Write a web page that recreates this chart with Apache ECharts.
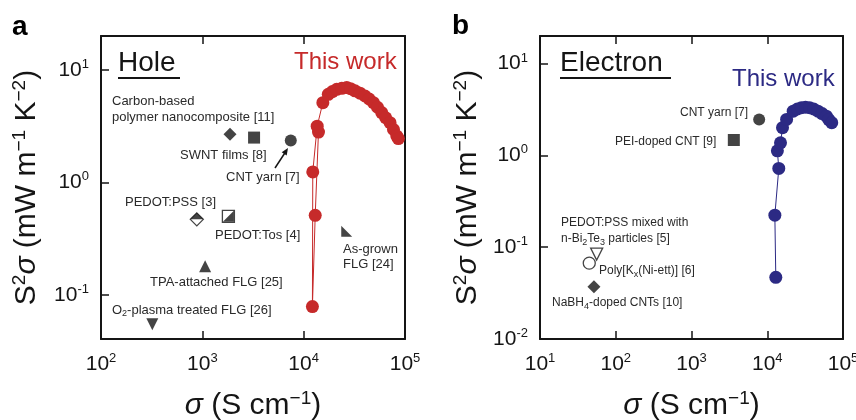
<!DOCTYPE html>
<html><head><meta charset="utf-8">
<script src="https://cdn.jsdelivr.net/npm/echarts@6/dist/echarts.min.js"></script>
<style>html,body{margin:0;padding:0;background:#fff}#c{width:856px;height:420px}</style>
</head><body><div id="c"></div>
<script>
// ---- data ----
const holeSigma = [14000, 13000, 12200, 12300, 13600, 15460, 17500, 19200, 21200, 23800, 26600, 29000, 32100, 36000, 40300, 44300, 48800, 53500, 58900, 64500, 71200, 77000, 83000, 86000];
const holeS2    = [2.8,   0.51,  0.079, 1.24,  3.16,  5.1,   6.06,  6.4,   6.7,   6.85,  6.95,  6.8,   6.5,   6.2,   5.85,  5.5,   5.1,   4.65,  4.17,  3.75,  3.39,  2.95,  2.58,  2.45];
const elecSigma = [12970, 12600, 14200, 13600, 14960, 15900, 18000, 22000, 25000, 28200, 32000, 36300, 41000, 46800, 53000, 60300, 65000, 71000];
const elecS2    = [0.047, 0.223, 0.72,  1.12,  1.37,  2.0,   2.46,  3.03,  3.2,   3.3,   3.35,  3.3,   3.2,   3.03,  2.85,  2.67,  2.45,  2.27];
const holeRefNames = ['Carbon-based polymer nanocomposite [11]', 'SWNT films [8]', 'CNT yarn [7]', 'PEDOT:PSS [3]', 'PEDOT:Tos [4]', 'As-grown FLG [24]', 'TPA-attached FLG [25]', 'O2-plasma treated FLG [26]'];
const holeRefSigma = [1875, 3240, 7460, 882, 1808, 26600, 1065, 321];
const holeRefS2    = [2.67, 2.5, 2.36, 0.47, 0.50, 0.369, 0.18, 0.055];
const elecRefNames = ['CNT yarn [7]', 'PEI-doped CNT [9]', 'PEDOT:PSS mixed with n-Bi2Te3 particles [5]', 'Poly[Kx(Ni-ett)] [6]', 'NaBH4-doped CNTs [10]'];
const elecRefSigma = [7820, 3620, 56, 44.7, 51.5];
const elecRefS2    = [2.46, 1.47, 0.084, 0.067, 0.037];
const xRangeHole = [100, 100000];
const xRangeElec = [10, 100000];
const yRangeHole = [0.0407, 19.95];
const yRangeElec = [0.01, 19.95];

// ---- styles ----
const FONT = 'Liberation Sans, Arial, sans-serif';
const RED = '#c62a2a', BLUE = '#2c2a84', INK = '#151515', TXT = '#2a2a2a';
const holeRefStyle = [
  [{symbol:'diamond', size:13, fill:INK}],
  [{symbol:'rect', size:12, fill:INK}],
  [{symbol:'circle', size:12, fill:INK}],
  [{symbol:'diamond', size:13, fill:'#fff', border:INK}, {symbol:'path://M0,10 L10,0 L20,10 Z', size:[13,6.5], offset:[0,-3.25], fill:INK}],
  [{symbol:'rect', size:12, fill:'#fff', border:INK}, {symbol:'path://M10,0 L10,10 L0,10 Z', size:11, fill:INK}],
  [{symbol:'path://M0,0 L0,10 L10,10 Z', size:11, fill:INK}],
  [{symbol:'triangle', size:12, fill:INK}],
  [{symbol:'triangle', size:12, fill:INK, rotate:180}]
];
const elecRefStyle = [
  [{symbol:'circle', size:12, fill:INK}],
  [{symbol:'rect', size:12, fill:INK}],
  [{symbol:'triangle', size:12, fill:'#fff', border:INK, rotate:180}],
  [{symbol:'circle', size:12, fill:'#fff', border:INK}],
  [{symbol:'diamond', size:13, fill:INK}]
];

function tickFmt(v){ const e = Math.round(Math.log10(v)); return '{b|10}{s|' + (e < 0 ? '-' : '') + Math.abs(e) + '}'; }
const tickRich = { b:{fontSize:21, fontFamily:FONT, color:INK}, s:{fontSize:13, fontFamily:FONT, color:INK, padding:[0,0,11,0]} };
const lineSty = {color:INK, width:2};
const titleRich = {
  i:{fontSize:30, fontStyle:'italic', fontFamily:FONT, color:INK},
  n:{fontSize:30, fontFamily:FONT, color:INK},
  p:{fontSize:19, fontFamily:FONT, color:INK, padding:[0,0,14,0]}
};

function xAx(gi, rng, pos, labels){
  return { gridIndex:gi, type:'log', logBase:10, min:rng[0], max:rng[1], position:pos,
    axisLine:{show:true, onZero:false, lineStyle:lineSty},
    axisTick:{show:true, inside:true, length:8, lineStyle:{color:INK, width:1.5}},
    axisLabel:{show:labels, margin:13, formatter:tickFmt, rich:tickRich},
    splitLine:{show:false}, minorTick:{show:false},
    name: labels ? '{i|σ}{n| (S cm}{p|−1}{n|)}' : '', nameLocation:'middle', nameGap:50,
    nameTextStyle:{rich:titleRich} };
}
function yAx(gi, rng, pos, labels, showMin){
  return { gridIndex:gi, type:'log', logBase:10, min:rng[0], max:rng[1], position:pos,
    axisLine:{show:true, onZero:false, lineStyle:lineSty},
    axisTick:{show:labels, inside:true, length:8, lineStyle:{color:INK, width:1.5}},
    axisLabel:{show:labels, margin:12, formatter:tickFmt, rich:tickRich, showMinLabel:showMin, showMaxLabel:false},
    splitLine:{show:false},
    name: labels ? '{n|S}{p|2}{i|σ}{n| (mW m}{p|−1}{n| K}{p|−2}{n|)}' : '', nameLocation:'middle', nameGap: gi===0 ? 58 : 56,
    nameTextStyle:{rich:titleRich} };
}

const series = [];
function addRefs(names, xs, ys, styles, xi, yi){
  names.forEach((n, k) => {
    styles[k].forEach(st => {
      series.push({ type:'scatter', name:n, xAxisIndex:xi, yAxisIndex:yi, data:[[xs[k], ys[k]]],
        symbol:st.symbol, symbolSize:st.size, symbolOffset:st.offset || [0,0], symbolRotate:st.rotate || 0,
        itemStyle:{color:st.fill, borderColor:st.border || st.fill, borderWidth:st.border ? 1.3 : 0}, z:5, silent:true });
    });
  });
}
addRefs(holeRefNames, holeRefSigma, holeRefS2, holeRefStyle, 0, 0);
addRefs(elecRefNames, elecRefSigma, elecRefS2, elecRefStyle, 2, 2);
series.push({ type:'line', name:'Hole this work', xAxisIndex:0, yAxisIndex:0, data:holeSigma.map((x,i)=>[x, holeS2[i]]),
  symbol:'circle', symbolSize:13, showSymbol:true, lineStyle:{color:RED, width:1}, itemStyle:{color:RED}, z:4, animation:false });
series.push({ type:'line', name:'Electron this work', xAxisIndex:2, yAxisIndex:2, data:elecSigma.map((x,i)=>[x, elecS2[i]]),
  symbol:'circle', symbolSize:13, showSymbol:true, lineStyle:{color:BLUE, width:1}, itemStyle:{color:BLUE}, z:4, animation:false });

function T(x, y, text, size, opts){ return Object.assign({ type:'text', x:x, y:y, style:Object.assign({ text:text, fontSize:size, fontFamily:FONT, fill:TXT, verticalAlign:'middle' }, opts || {}) }); }
const subRich = { s:{fontSize:9, fontFamily:FONT, fill:TXT, padding:[8,0,0,0]} };
const graphics = [
  T(12, 27, 'a', 28, {fill:'#000', fontWeight:'bold'}),
  T(452, 26, 'b', 28, {fill:'#000', fontWeight:'bold'}),
  T(118, 63, 'Hole', 28, {fill:INK}),
  {type:'line', shape:{x1:118, y1:78, x2:180, y2:78}, style:{stroke:INK, lineWidth:2}},
  T(294, 62, 'This work', 24, {fill:RED}),
  T(560, 63, 'Electron', 28, {fill:INK}),
  {type:'line', shape:{x1:560, y1:78, x2:671, y2:78}, style:{stroke:INK, lineWidth:2}},
  T(732, 79, 'This work', 24, {fill:BLUE}),
  T(112, 101, 'Carbon-based', 13),
  T(112, 117, 'polymer nanocomposite [11]', 13),
  T(180, 155, 'SWNT films [8]', 13),
  T(226, 177, 'CNT yarn [7]', 13),
  T(125, 202, 'PEDOT:PSS [3]', 13),
  T(215, 235, 'PEDOT:Tos [4]', 13),
  T(343, 249, 'As-grown', 13),
  T(343, 264, 'FLG [24]', 13),
  T(150, 282, 'TPA-attached FLG [25]', 13),
  T(112, 310, 'O{s|2}-plasma treated FLG [26]', 13, {rich:subRich}),
  {type:'line', shape:{x1:275, y1:168, x2:285.5, y2:152}, style:{stroke:INK, lineWidth:1.5}},
  {type:'polygon', shape:{points:[[288,148],[286.7,155.5],[281.7,152.3]]}, style:{fill:INK}},
  T(680, 113, 'CNT yarn [7]', 12),
  T(615, 142, 'PEI-doped CNT [9]', 12),
  T(561, 223, 'PEDOT:PSS mixed with', 12),
  T(561, 239, 'n-Bi{s|2}Te{s|3} particles [5]', 12, {rich:subRich}),
  T(599, 271, 'Poly[K{s|x}(Ni-ett)] [6]', 12, {rich:subRich}),
  T(552, 303, 'NaBH{s|4}-doped CNTs [10]', 12, {rich:subRich})
];

const chart = echarts.init(document.getElementById('c'), null, {renderer:'canvas'});
chart.setOption({
  animation:false,
  backgroundColor:'#fff',
  textStyle:{fontFamily:FONT},
  grid:[{left:101, top:36, width:304, height:303, containLabel:false, outerBoundsMode:'none'},
        {left:540, top:36, width:303, height:303, containLabel:false, outerBoundsMode:'none'}],
  xAxis:[xAx(0, xRangeHole, 'bottom', true), xAx(0, xRangeHole, 'top', false), xAx(1, xRangeElec, 'bottom', true), xAx(1, xRangeElec, 'top', false)],
  yAxis:[yAx(0, yRangeHole, 'left', true, false), yAx(0, yRangeHole, 'right', false, false), yAx(1, yRangeElec, 'left', true, true), yAx(1, yRangeElec, 'right', false, false)],
  series:series,
  graphic:graphics
});
</script></body></html>
